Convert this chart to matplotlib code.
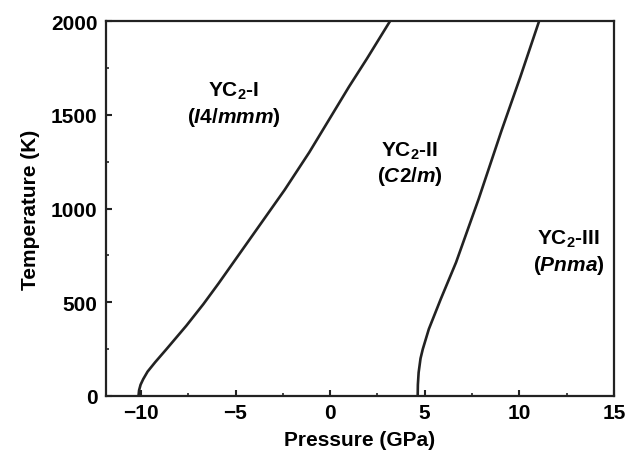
import matplotlib
matplotlib.use("Agg")
import matplotlib.pyplot as plt
from matplotlib.ticker import MultipleLocator

# Phase boundary YC2-I / YC2-II
T_boundary1 = [0, 30, 60, 90, 130, 180, 250, 375, 490, 600, 800, 950, 1100, 1300, 1500, 1650, 1800, 2000]
P_boundary1 = [-10.13, -10.1, -10.02, -9.88, -9.65, -9.25, -8.65, -7.6, -6.7, -5.9, -4.5, -3.45, -2.4, -1.1, 0.1, 1.0, 1.95, 3.17]

# Phase boundary YC2-II / YC2-III
T_boundary2 = [0, 60, 125, 200, 250, 357, 517, 713, 900, 1050, 1415, 1700, 2000]
P_boundary2 = [4.63, 4.64, 4.68, 4.78, 4.9, 5.22, 5.85, 6.66, 7.32, 7.85, 9.06, 10.05, 11.05]

x_ticks = [-10, -5, 0, 5, 10, 15]
y_ticks = [0, 500, 1000, 1500, 2000]

plt.rcParams['font.family'] = ['Liberation Sans', 'DejaVu Sans']
plt.rcParams['font.weight'] = 'bold'
plt.rcParams['mathtext.fontset'] = 'custom'
plt.rcParams['mathtext.rm'] = 'Liberation Sans:bold'
plt.rcParams['mathtext.bf'] = 'Liberation Sans:bold'
plt.rcParams['mathtext.it'] = 'Liberation Sans:italic:bold'

fig = plt.figure(figsize=(6.27, 4.6), dpi=100)
ax = fig.add_axes([0.169, 0.137, 0.81, 0.815])

lc = '#222222'
ax.plot(P_boundary1, T_boundary1, color=lc, lw=1.9)
ax.plot(P_boundary2, T_boundary2, color=lc, lw=1.9)

ax.set_xlim(-11.85, 15)
ax.set_ylim(0, 2000)
ax.set_xticks(x_ticks)
ax.set_yticks(y_ticks)
ax.xaxis.set_minor_locator(MultipleLocator(2.5))
ax.yaxis.set_minor_locator(MultipleLocator(250))
ax.tick_params(which='major', direction='in', length=4, width=1.5, labelsize=15, color=lc)
ax.tick_params(which='minor', direction='in', length=2, width=1.2, color=lc)
ax.tick_params(axis='y', pad=6)
ax.tick_params(axis='x', pad=5)
for lab in ax.get_xticklabels() + ax.get_yticklabels():
    lab.set_fontweight('bold')
for s in ax.spines.values():
    s.set_linewidth(1.6)
    s.set_color(lc)

ax.set_xlabel('Pressure (GPa)', fontsize=15, fontweight='bold', labelpad=6)
ax.set_ylabel('Temperature (K)', fontsize=15, fontweight='bold', labelpad=8)

fs = 15
ax.text(-5.1, 1630, 'YC$_2$-I', ha='center', va='center', fontsize=fs, fontweight='bold')
ax.text(-5.1, 1490, '($\\mathit{I4/mmm}$)', ha='center', va='center', fontsize=fs, fontweight='bold')
ax.text(4.2, 1310, 'YC$_2$-II', ha='center', va='center', fontsize=fs, fontweight='bold')
ax.text(4.2, 1175, '($\\mathit{C2/m}$)', ha='center', va='center', fontsize=fs, fontweight='bold')
ax.text(12.6, 840, 'YC$_2$-III', ha='center', va='center', fontsize=fs, fontweight='bold')
ax.text(12.6, 700, '($\\mathit{Pnma}$)', ha='center', va='center', fontsize=fs, fontweight='bold')

fig.savefig('out.png', dpi=100)
